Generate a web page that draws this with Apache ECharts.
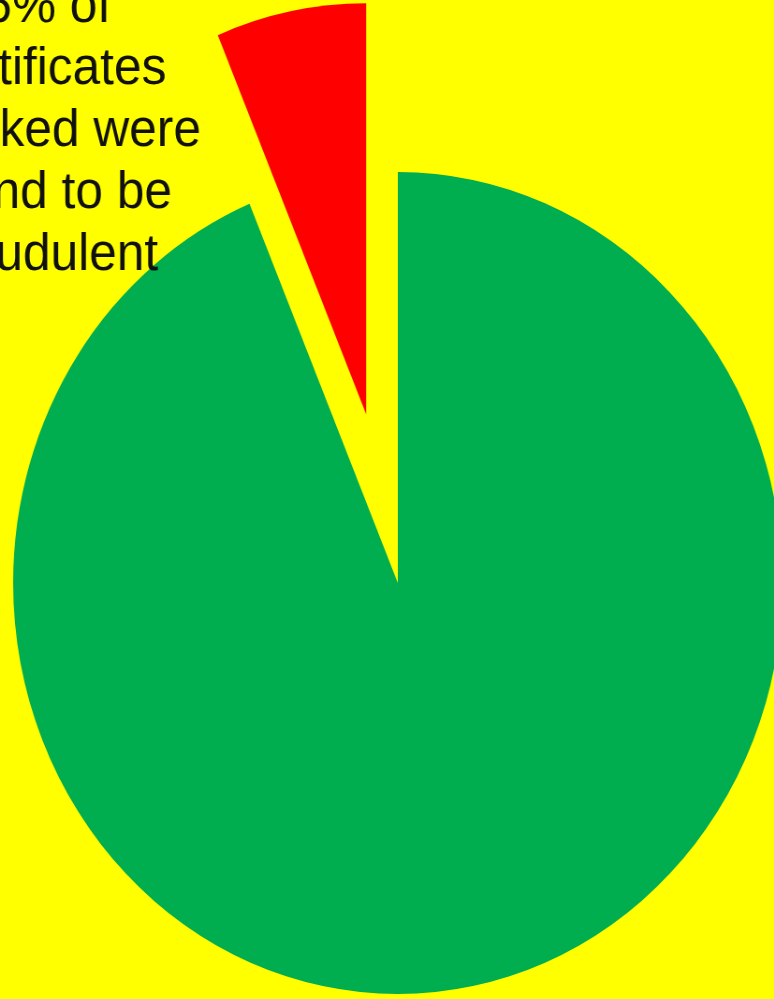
<!DOCTYPE html>
<html>
<head>
<meta charset="utf-8">
<script src="https://cdn.jsdelivr.net/npm/echarts@6/dist/echarts.min.js"></script>
<style>
html,body{margin:0;padding:0;background:#FFFF00;overflow:hidden;width:774px;height:999px;}
#wrap{width:774px;height:999px;overflow:hidden;position:relative;}
#chart{width:827px;height:999px;transform:scaleX(0.936);transform-origin:0 0;position:absolute;left:0;top:0;}
</style>
</head>
<body>
<div id="wrap"><div id="chart"></div></div>
<script>
const categories = ['Genuine', 'Fraudulent'];
const values = [93.7, 6.3];
const colors = ['#00AD4F', '#FF0000'];
const annotationLines = ['6% of', 'certificates', 'checked were', 'found to be', 'fraudulent'];

const chart = echarts.init(document.getElementById('chart'), null, {renderer: 'canvas'});
chart.setOption({
  backgroundColor: '#FFFF00',
  animation: false,
  graphic: [{
    type: 'text',
    x: 51,
    y: -23,
    scaleX: 1.04,
    z: 10,
    style: {
      text: annotationLines.join('\n'),
      textAlign: 'center',
      textVerticalAlign: 'top',
      fontFamily: '"Liberation Sans", Arial, sans-serif',
      fontSize: 51,
      lineHeight: 62,
      fill: '#111111'
    }
  }],
  series: [{
    type: 'pie',
    center: [425, 583],
    radius: [0, 411],
    startAngle: 90,
    clockwise: true,
    silent: true,
    selectedMode: 'single',
    selectedOffset: 172,
    label: {show: false},
    labelLine: {show: false},
    itemStyle: {borderWidth: 0},
    emphasis: {disabled: true},
    data: categories.map((c, i) => ({
      name: c,
      value: values[i],
      selected: i === 1,
      itemStyle: {color: colors[i]}
    }))
  }]
});
</script>
</body>
</html>
